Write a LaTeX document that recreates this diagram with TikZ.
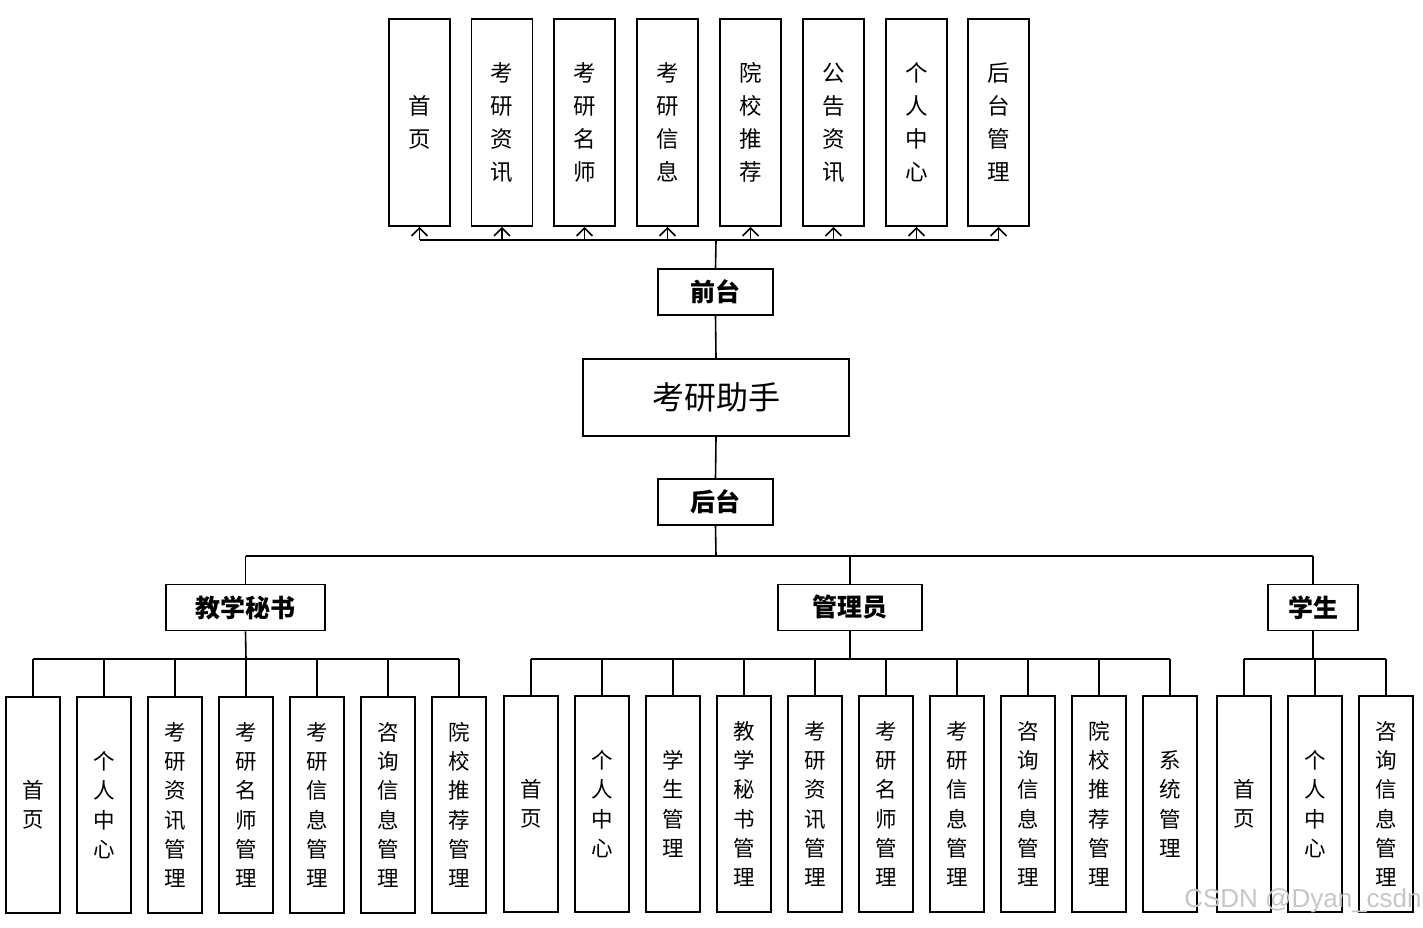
\documentclass[tikz,border=0pt]{standalone}
\usepackage{fontspec}
\newfontfamily\cjk{Noto Sans CJK SC}
\newfontfamily\wmfont{Liberation Sans}
\usetikzlibrary{arrows.meta}
\begin{document}
\begin{tikzpicture}[x=1pt,y=-1pt,
 box/.style={draw,line width=1.6pt,inner sep=0pt,align=center},
 topbox/.style={box,minimum width=61pt,minimum height=207pt,font=\cjk\fontsize{22.5}{33}\selectfont},
 botbox/.style={box,minimum width=54pt,minimum height=216pt,font=\cjk\fontsize{21.5}{29.3}\selectfont},
 midbox/.style={box,minimum height=46pt,font=\cjk\bfseries\fontsize{25}{28}\selectfont},
 conn/.style={line width=1.6pt},
 arr/.style={conn,-{Straight Barb[length=8pt,width=16pt,line width=1.6pt]}}]
\useasboundingbox (0,0) rectangle (1423,927);

% top row
\node[topbox] (t1) at (419.5,122.5) {首\\页};
\node[topbox] (t2) at (502,122.5) {考\\研\\资\\讯};
\node[topbox] (t3) at (584.5,122.5) {考\\研\\名\\师};
\node[topbox] (t4) at (667.5,122.5) {考\\研\\信\\息};
\node[topbox] (t5) at (750.5,122.5) {院\\校\\推\\荐};
\node[topbox] (t6) at (833.5,122.5) {公\\告\\资\\讯};
\node[topbox] (t7) at (916.5,122.5) {个\\人\\中\\心};
\node[topbox] (t8) at (998.5,122.5) {后\\台\\管\\理};

% middle column
\node[midbox,minimum width=115pt] (qt) at (715.5,292) {前台};
\node[box,minimum width=266pt,minimum height=77pt,font=\cjk\fontsize{32}{36}\selectfont] (main) at (716,397.5) {考研助手};
\node[midbox,minimum width=115pt] (ht) at (715.5,502) {后台};

\coordinate (bus) at (716,240);
\draw[conn] (qt.north) -- (bus);
\draw[conn] (t1.south |- bus) -- (t8.south |- bus);
\foreach \i in {1,...,8}{\draw[arr] (t\i.south |- bus) -- (t\i.south);}
\draw[conn] (qt.south) -- (main.north);
\draw[conn] (main.south) -- (ht.north);

% level 2
\node[midbox,minimum width=159pt] (js) at (245.5,607.5) {教学秘书};
\node[midbox,minimum width=144pt] (gl) at (850,607.5) {管理员};
\node[midbox,minimum width=90pt] (xs) at (1313,607.5) {学生};

\coordinate (bus2) at (716,556);
\draw[conn] (ht.south) -- (bus2);
\draw[conn] (js.north |- bus2) -- (xs.north |- bus2);
\draw[conn] (js.north |- bus2) -- (js.north);
\draw[conn] (gl.north |- bus2) -- (gl.north);
\draw[conn] (xs.north |- bus2) -- (xs.north);

% left group
\node[botbox] (a1) at (33,805) {首\\页};
\node[botbox] (a2) at (104,805) {个\\人\\中\\心};
\node[botbox] (a3) at (175,805) {考\\研\\资\\讯\\管\\理};
\node[botbox] (a4) at (246,805) {考\\研\\名\\师\\管\\理};
\node[botbox] (a5) at (317,805) {考\\研\\信\\息\\管\\理};
\node[botbox] (a6) at (388,805) {咨\\询\\信\\息\\管\\理};
\node[botbox] (a7) at (459,805) {院\\校\\推\\荐\\管\\理};

% middle group
\node[botbox] (b1) at (531,804) {首\\页};
\node[botbox] (b2) at (602,804) {个\\人\\中\\心};
\node[botbox] (b3) at (673,804) {学\\生\\管\\理};
\node[botbox] (b4) at (744,804) {教\\学\\秘\\书\\管\\理};
\node[botbox] (b5) at (815,804) {考\\研\\资\\讯\\管\\理};
\node[botbox] (b6) at (886,804) {考\\研\\名\\师\\管\\理};
\node[botbox] (b7) at (957,804) {考\\研\\信\\息\\管\\理};
\node[botbox] (b8) at (1028,804) {咨\\询\\信\\息\\管\\理};
\node[botbox] (b9) at (1099,804) {院\\校\\推\\荐\\管\\理};
\node[botbox] (b10) at (1170,804) {系\\统\\管\\理};

% right group
\node[botbox] (c1) at (1244,804) {首\\页};
\node[botbox] (c2) at (1315,804) {个\\人\\中\\心};
\node[botbox] (c3) at (1386,804) {咨\\询\\信\\息\\管\\理};

\coordinate (busa) at (246,659);
\coordinate (busb) at (850,659);
\coordinate (busc) at (1313,659);
\draw[conn] (js.south) -- (busa);
\draw[conn] (a1.north |- busa) -- (a7.north |- busa);
\foreach \i in {1,...,7}{\draw[conn] (a\i.north |- busa) -- (a\i.north);}
\draw[conn] (gl.south) -- (busb);
\draw[conn] (b1.north |- busb) -- (b10.north |- busb);
\foreach \i in {1,...,10}{\draw[conn] (b\i.north |- busb) -- (b\i.north);}
\draw[conn] (xs.south) -- (busc);
\draw[conn] (c1.north |- busc) -- (c3.north |- busc);
\foreach \i in {1,...,3}{\draw[conn] (c\i.north |- busc) -- (c\i.north);}

% watermark
\node[text=gray!45,font=\wmfont\fontsize{26}{28}\selectfont,inner sep=0pt] (wm) at (1303,901) {CSDN @Dyan\_csdn};
\end{tikzpicture}
\end{document}
